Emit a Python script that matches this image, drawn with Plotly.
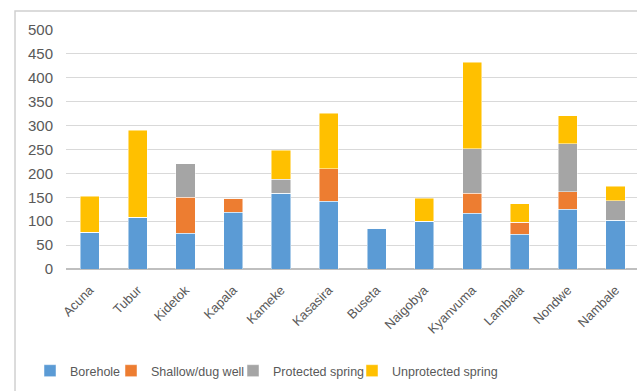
import plotly.graph_objects as go

categories = ["Acuna", "Tubur", "Kidetok", "Kapala", "Kameke", "Kasasira",
              "Buseta", "Naigobya", "Kyanvuma", "Lambala", "Nondwe", "Nambale"]
borehole = [77, 108, 75, 119, 158, 142, 85, 100, 117, 73, 125, 102]
shallow_dug_well = [0, 0, 75, 29, 0, 68, 0, 0, 42, 25, 37, 0]
protected_spring = [0, 0, 70, 0, 30, 0, 0, 0, 93, 0, 100, 41]
unprotected_spring = [75, 182, 0, 0, 60, 116, 0, 48, 181, 39, 59, 30]
y_ticks = [0, 50, 100, 150, 200, 250, 300, 350, 400, 450, 500]

series = [
    ("Borehole", borehole, "#5B9BD5", 36),
    ("Shallow/dug well", shallow_dug_well, "#ED7D31", 77),
    ("Protected spring", protected_spring, "#A5A5A5", 74),
    ("Unprotected spring", unprotected_spring, "#FFC000", 110),
]

FONT = "Liberation Sans, Arial, sans-serif"

fig = go.Figure()
for name, vals, color, lw in series:
    fig.add_trace(go.Bar(
        name=name, x=categories, y=vals, legendwidth=lw,
        marker=dict(color=color, line=dict(color="rgba(255,255,255,0.6)", width=0.8)),
    ))

fig.update_layout(
    barmode="stack",
    bargap=0.6,
    width=637, height=391,
    margin=dict(l=66, r=0, t=30, b=122, autoexpand=False),
    paper_bgcolor="white",
    plot_bgcolor="white",
    font=dict(family=FONT, color="#595959", size=13),
    showlegend=True,
    legend=dict(
        orientation="h", x=-0.063, xanchor="left", y=-0.427, yanchor="middle",
        font=dict(family=FONT, size=12.5, color="#595959"),
        itemwidth=30, traceorder="normal",
    ),
    xaxis=dict(
        range=[-0.5, 11.45],
        tickangle=-45,
        tickfont=dict(family=FONT, size=13, color="#595959"),
        showgrid=False, zeroline=False, showline=False, ticks="",
        ticklabelstandoff=10,
        automargin=False,
    ),
    yaxis=dict(
        range=[0, 500],
        tickvals=y_ticks,
        tickfont=dict(family=FONT, size=15, color="#595959"),
        showgrid=True, gridcolor="#D9D9D9", gridwidth=1,
        zeroline=True, zerolinecolor="#BFBFBF", zerolinewidth=1.5,
        showline=False, ticks="", ticklabelstandoff=12,
        automargin=False,
    ),
    shapes=[dict(
        type="rect", xref="paper", yref="paper",
        x0=-0.0893, x1=1.03, y0=-0.56, y1=1.08,
        line=dict(color="#D0D0D0", width=1.5), fillcolor="rgba(0,0,0,0)",
        layer="below",
    )],
)

fig.write_html("out.html", config={"displayModeBar": False},
               post_script="document.body.style.margin='0';")
